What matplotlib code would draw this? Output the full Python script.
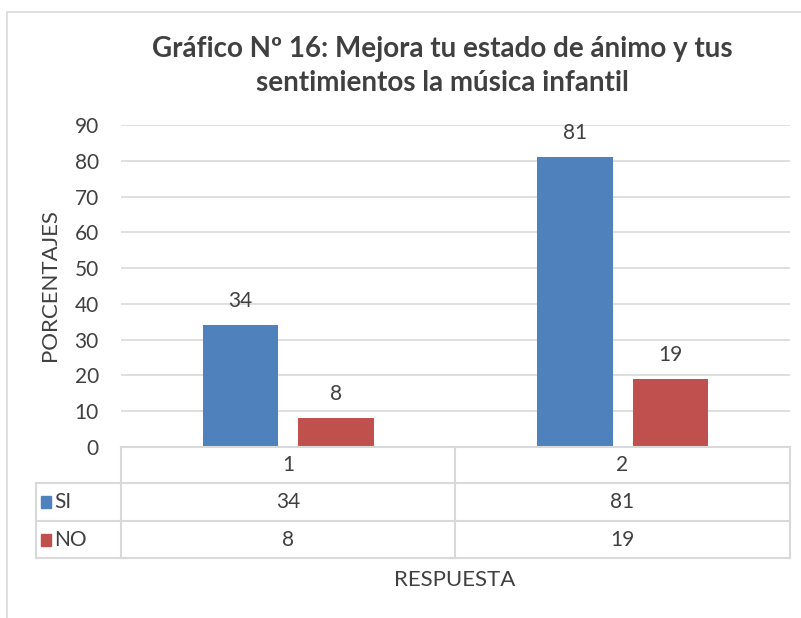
import matplotlib.pyplot as plt
from matplotlib.patches import Rectangle
from matplotlib.lines import Line2D

plt.rcParams['font.family'] = ['Lato', 'DejaVu Sans']

categories = ["1", "2"]
series_names = ["SI", "NO"]
si_values = [34, 81]
no_values = [8, 19]
yticks = [0, 10, 20, 30, 40, 50, 60, 70, 80, 90]
title = "Gráfico Nº 16: Mejora tu estado de ánimo y tus\nsentimientos la música infantil"

blue = "#4F81BD"
red = "#C0504D"
grid_c = "#D9D9D9"
text_c = "#404040"

W, H = 801, 618
fig = plt.figure(figsize=(W / 100, H / 100), dpi=100)


def fx(px):
    return px / W


def fy(py):
    return 1 - py / H


# outer chart frame
fig.patches.append(Rectangle((fx(7), fy(640)), fx(820), fy(12) - fy(640),
                             transform=fig.transFigure, fill=False,
                             edgecolor=grid_c, lw=1.2))

left, right, top, bottom = 121, 790, 125, 447
ax = fig.add_axes([fx(left), fy(bottom), fx(right - left), fy(top) - fy(bottom)])

x = list(range(len(categories)))
w = 0.225
gap = 0.06
xs_si = [i - (w + gap) / 2 for i in x]
xs_no = [i + (w + gap) / 2 for i in x]
b1 = ax.bar(xs_si, si_values, w, color=blue, zorder=3)
b2 = ax.bar(xs_no, no_values, w, color=red, zorder=3)
for bars in (b1, b2):
    for b in bars:
        ax.annotate(str(int(b.get_height())), (b.get_x() + b.get_width() / 2, b.get_height()),
                    xytext=(0, 10), textcoords="offset points", ha="center", va="bottom",
                    fontsize=15, color=text_c)

ax.set_xlim(-0.5, len(categories) - 0.5)
ax.set_ylim(0, 90)
ax.set_yticks(yticks)
ax.yaxis.grid(True, color=grid_c, lw=1.2, zorder=0)
ax.tick_params(axis="y", length=0, pad=16, labelsize=15, labelcolor=text_c)
ax.set_xticks([])
for s in ax.spines.values():
    s.set_visible(False)

fig.text(fx(442), fy(66), title, ha="center", va="center", fontsize=20,
         fontweight="bold", color=text_c, linespacing=1.4)
fig.text(fx(50), fy(285), "PORCENTAJES", rotation=90, ha="center", va="center",
         fontsize=16, color=text_c)

# data table
row_y = [447, 483, 521, 558]
col_x = [36, 121, 455, 790]


def hline(y, x0, x1):
    fig.add_artist(Line2D([fx(x0), fx(x1)], [fy(y), fy(y)], color=grid_c, lw=1.5))


def vline(xp, y0, y1):
    fig.add_artist(Line2D([fx(xp), fx(xp)], [fy(y0), fy(y1)], color=grid_c, lw=1.5))


hline(row_y[0], col_x[1], col_x[3])
for y in row_y[1:]:
    hline(y, col_x[0], col_x[3])
vline(col_x[0], row_y[1], row_y[3])
vline(col_x[1], row_y[0], row_y[3])
vline(col_x[2], row_y[0], row_y[3])
vline(col_x[3], row_y[0], row_y[3])

for j, cat in enumerate(categories):
    cx = (col_x[j + 1] + col_x[j + 2]) / 2
    fig.text(fx(cx), fy((row_y[0] + row_y[1]) / 2), cat, ha="center", va="center",
             fontsize=15, color=text_c)
    for r, vals in enumerate((si_values, no_values)):
        fig.text(fx(cx), fy((row_y[r + 1] + row_y[r + 2]) / 2), str(vals[j]),
                 ha="center", va="center", fontsize=15, color=text_c)

for r, (name, c) in enumerate(zip(series_names, (blue, red))):
    cy = (row_y[r + 1] + row_y[r + 2]) / 2
    fig.patches.append(Rectangle((fx(41), fy(cy + 6)), fx(10), fy(cy - 6) - fy(cy + 6),
                                 transform=fig.transFigure, color=c))
    fig.text(fx(54), fy(cy), name, ha="left", va="center", fontsize=15, color=text_c)

fig.text(fx(455), fy(580), "RESPUESTA", ha="center", va="center", fontsize=16, color=text_c)

fig.savefig("out.png", dpi=100)
